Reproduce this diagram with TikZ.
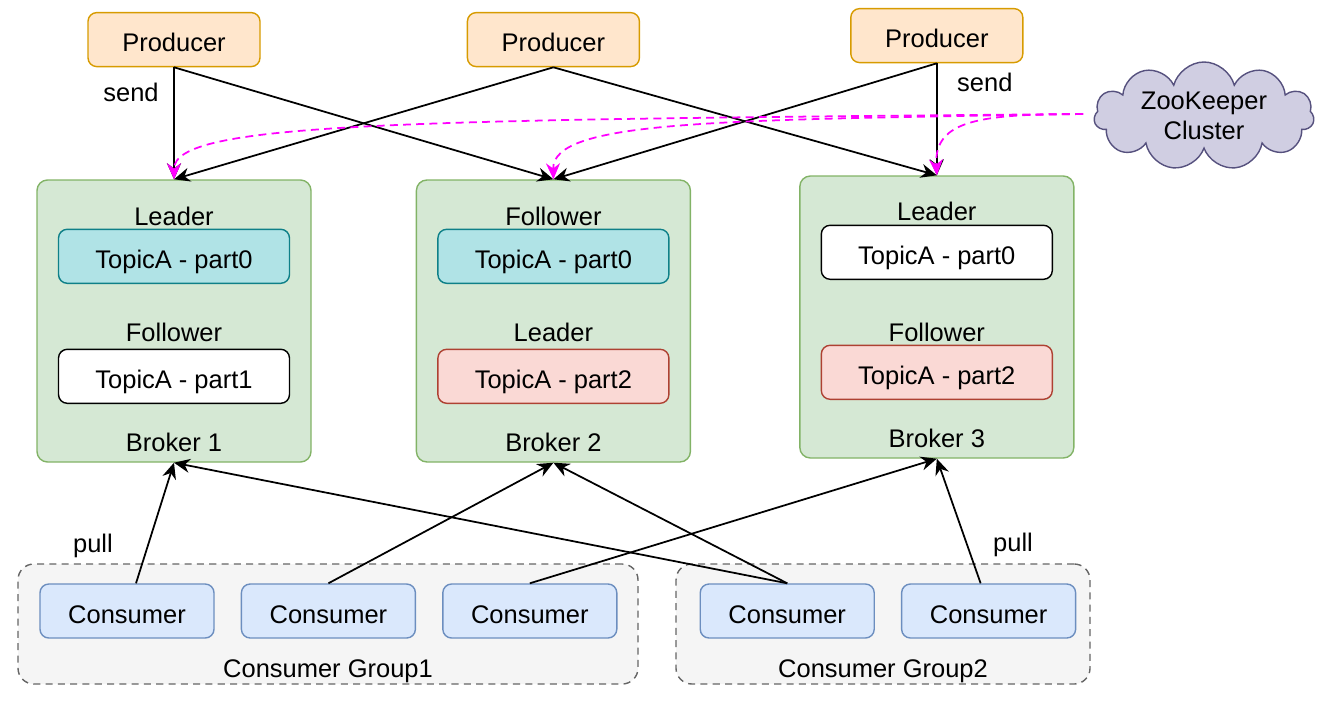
\documentclass[tikz,border=0pt]{standalone}
\usepackage{fontspec}
\setmainfont{Liberation Sans}
\usetikzlibrary{shapes.symbols, arrows.meta, positioning}
\definecolor{prodfill}{HTML}{FFE6CC}
\definecolor{prodline}{HTML}{D79B00}
\definecolor{brokerfill}{HTML}{D5E8D4}
\definecolor{brokerline}{HTML}{82B366}
\definecolor{tealfill}{HTML}{B0E3E6}
\definecolor{tealline}{HTML}{0E8088}
\definecolor{redfill}{HTML}{FAD9D5}
\definecolor{redline}{HTML}{AE4132}
\definecolor{consfill}{HTML}{DAE8FC}
\definecolor{consline}{HTML}{6C8EBF}
\definecolor{groupfill}{HTML}{F5F5F5}
\definecolor{groupline}{HTML}{666666}
\definecolor{zkfill}{HTML}{D0CEE2}
\definecolor{zkline}{HTML}{56517E}
\definecolor{zkpink}{HTML}{FF00FF}

\begin{document}
\begin{tikzpicture}[
    every node/.style={font=\fontsize{14.5}{17}\selectfont},
    box/.style={draw, rounded corners=5pt, minimum height=1.08cm, line width=0.8pt, inner sep=0pt, align=center, text height=14pt, text depth=0pt},
    prod/.style={box, fill=prodfill, draw=prodline, minimum width=3.44cm},
    broker/.style={box, fill=brokerfill, draw=brokerline, rounded corners=6pt, minimum width=5.48cm, minimum height=5.64cm},
    whitebox/.style={box, fill=white, draw=black, minimum width=4.62cm},
    tealbox/.style={whitebox, fill=tealfill, draw=tealline},
    redbox/.style={whitebox, fill=redfill, draw=redline},
    cons/.style={box, fill=consfill, draw=consline, minimum width=3.48cm},
    cgroup/.style={box, fill=groupfill, draw=groupline, dashed, dash pattern=on 4pt off 3pt, rounded corners=9pt, minimum height=2.4cm},
    zk/.style={cloud, cloud puffs=11, cloud ignores aspect, draw=zkline, fill=zkfill, line width=0.8pt, minimum width=4.4cm, minimum height=2.16cm, align=center, inner sep=0pt},
    lbl/.style={inner sep=0pt, text height=14pt, text depth=0pt},
    arr/.style={-{Stealth[length=0.32cm, width=0.28cm]}, line width=1pt},
    zarr/.style={-{Stealth[length=0.32cm, width=0.28cm]}, line width=1pt, zkpink, dash pattern=on 4.5pt off 3pt},
]
\useasboundingbox (0,0) rectangle (26.48,-14);

% Brokers
\node[broker] (b1) at (3.48,-6.42) {};
\node[broker, right=2.08cm of b1] (b2) {};
\node[broker, right=2.16cm of b2, yshift=0.08cm] (b3) {};

\node[lbl] (b1top) at ([yshift=-0.68cm]b1.north) {Leader};
\node[tealbox] (b1p0) at ([yshift=-1.54cm]b1.north) {TopicA - part0};
\node[lbl] (b1mid) at ([yshift=-3.0cm]b1.north) {Follower};
\node[whitebox] (b1p1) at ([yshift=-3.94cm]b1.north) {TopicA - part1};
\node[lbl] (b1name) at ([yshift=-5.2cm]b1.north) {Broker 1};

\node[lbl] (b2top) at ([yshift=-0.68cm]b2.north) {Follower};
\node[tealbox] (b2p0) at ([yshift=-1.54cm]b2.north) {TopicA - part0};
\node[lbl] (b2mid) at ([yshift=-3.0cm]b2.north) {Leader};
\node[redbox] (b2p2) at ([yshift=-3.94cm]b2.north) {TopicA - part2};
\node[lbl] (b2name) at ([yshift=-5.2cm]b2.north) {Broker 2};

\node[lbl] (b3top) at ([yshift=-0.66cm]b3.north) {Leader};
\node[whitebox] (b3p0) at ([yshift=-1.54cm]b3.north) {TopicA - part0};
\node[lbl] (b3mid) at ([yshift=-3.08cm]b3.north) {Follower};
\node[redbox] (b3p2) at ([yshift=-3.94cm]b3.north) {TopicA - part2};
\node[lbl] (b3name) at ([yshift=-5.2cm]b3.north) {Broker 3};

% Producers
\node[prod, above=2.24cm of b1] (p1) {Producer};
\node[prod, above=2.24cm of b2] (p2) {Producer};
\node[prod, above=2.24cm of b3] (p3) {Producer};

% ZooKeeper
\node[zk] (zoo) at (24.08,-2.32) {ZooKeeper\\Cluster};
\coordinate (zkout) at (21.66,-2.28);

% Consumer groups
\node[cgroup, minimum width=12.4cm] (g1) at (6.56,-12.48) {};
\node[cgroup, minimum width=8.28cm] (g2) at (17.66,-12.48) {};
\node[lbl] (g1name) at ([yshift=0.4cm]g1.south) {Consumer Group1};
\node[lbl] (g2name) at ([yshift=0.4cm]g2.south) {Consumer Group2};

\node[cons] (c1) at (2.54,-12.22) {Consumer};
\node[cons, right=0.52cm of c1] (c2) {Consumer};
\node[cons, right=0.52cm of c2] (c3) {Consumer};
\node[cons, right=1.64cm of c3] (c4) {Consumer};
\node[cons, right=0.52cm of c4] (c5) {Consumer};

% Arrows
\draw[arr] (p1.south) -- node[lbl, pos=0.2, left=0.29cm] (send1) {send} (b1.north);
\draw[arr] (p1.south) -- (b2.north);
\draw[arr] (p2.south) -- (b1.north);
\draw[arr] (p2.south) -- (b3.north);
\draw[arr] (p3.south) -- (b2.north);
\draw[arr] (p3.south) -- node[lbl, pos=0.14, right=0.39cm] (send3) {send} (b3.north);

\draw[zarr] (zkout) .. controls (8,-2.4) and (3.48,-2.44) .. (b1.north);
\draw[zarr] (zkout) .. controls (14.4,-2.4) and (11.04,-2.4) .. (b2.north);
\draw[zarr] (zkout) .. controls (19.6,-2.28) and (18.68,-2.4) .. (b3.north);

\draw[arr] ([xshift=0.18cm]c1.north) -- node[lbl, pos=0.36, left=0.72cm] (pull1) {pull} (b1.south);
\draw[arr] (c4.north) -- (b1.south);
\draw[arr] (c2.north) -- (b2.south);
\draw[arr] (c4.north) -- (b2.south);
\draw[arr] (c3.north) -- (b3.south);
\draw[arr] ([xshift=-0.16cm]c5.north) -- node[lbl, pos=0.35, right=0.54cm] (pull2) {pull} (b3.south);

\end{tikzpicture}
\end{document}
